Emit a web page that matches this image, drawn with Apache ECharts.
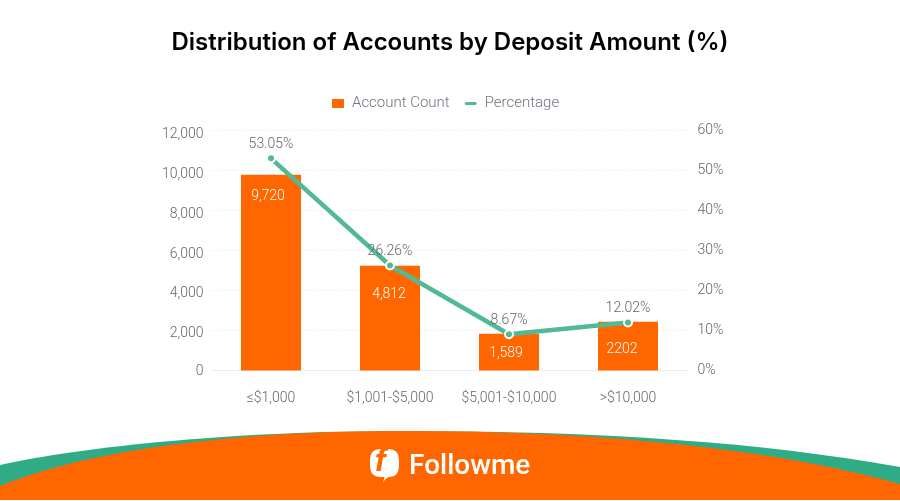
<!DOCTYPE html>
<html><head><meta charset="utf-8">
<style>html,body{margin:0;padding:0;background:#fff}#c{width:900px;height:501px}</style>
<script src="https://cdn.jsdelivr.net/npm/echarts@6/dist/echarts.min.js"></script>
</head><body><div id="c"></div>
<script>
const categories = ['≤$1,000', '$1,001-$5,000', '$5,001-$10,000', '>$10,000'];
const accountCount = [9785, 5235, 1835, 2435];
const accountLabels = ['9,720', '4,812', '1,589', '2202'];
const percentage = [53.05, 26.26, 9.05, 12.02];
const percentLabels = ['53.05%', '26.26%', '8.67%', '12.02%'];
const FONT = 'Roboto';
const TICK = '#666666';
const G = echarts.graphic;
G.registerShape('greenWave', G.extendPath('M0 465 C85 446 240 431 400 431 C600 431 760 442 900 467 L900 500 L0 500 Z'));
G.registerShape('orangeWave', G.extendPath('M0 486 C100 445 260 431 400 431 C600 431 770 448 900 484 L900 500 L0 500 Z'));
G.registerShape('logoBubble', G.extendPath('M381 449 H388 C396 449 399 453 399 461 V465 C399 473 396 477 389 477 C386 478 384 480 383 483 L384.5 477 H381 C373 477 370 473 370 465 V461 C370 453 373 449 381 449 Z'));
const labelNudge = [[-3, 2], [-1, 9], [-3, 0], [-6, 8]];
const leftTickPad = [2, 6, 6, 8, 8, 8, 8];
const leftRich = {};
leftTickPad.forEach((p, i) => { leftRich['t' + i] = { padding: [p, 0, 0, 0], fontFamily: FONT, fontSize: 14, color: TICK, fontWeight: 300 }; });
const chart = echarts.init(document.getElementById('c'));
chart.setOption({
  animation: false,
  title: { text: 'Distribution of Accounts by Deposit Amount (%)', left: 'center', top: 26,
    textStyle: { fontFamily: 'Inter', fontSize: 24, fontWeight: 600, color: '#000' } },
  legend: { top: 91, left: 327, itemWidth: 12, itemHeight: 9, itemGap: 15,
    textStyle: { fontFamily: FONT, fontSize: 15, color: '#70747f', fontWeight: 300, padding: [0, 0, 0, 3] },
    data: [{ name: 'Account Count', icon: 'rect' },
           { name: 'Percentage', icon: 'path://M1.5 0H10.5A1.5 1.5 0 0 1 10.5 3H1.5A1.5 1.5 0 0 1 1.5 0Z',
             itemStyle: { color: '#52b996', borderWidth: 0 } }] },
  grid: { left: 211.5, right: 212.5, top: 130.5, height: 240 },
  xAxis: { type: 'category', data: categories,
    axisLine: { lineStyle: { color: '#eeeeee' } },
    axisTick: { lineStyle: { color: '#dddddd' }, alignWithLabel: true },
    axisLabel: { interval: 0, margin: 21, fontFamily: FONT, fontSize: 14, fontWeight: 300, color: TICK } },
  yAxis: [
    { type: 'value', min: 0, max: 12000, interval: 2000,
      axisLine: { show: false }, axisTick: { show: false },
      axisLabel: { margin: 8, rich: leftRich,
        formatter: (v, i) => `{t${i}|${v.toLocaleString('en-US')}}` },
      splitLine: { lineStyle: { color: '#f2f2f2', type: 'dashed' } } },
    { type: 'value', min: 0, max: 60, interval: 10,
      axisLine: { show: false }, axisTick: { show: false }, splitLine: { show: false },
      axisLabel: { margin: 10, fontFamily: FONT, fontSize: 14, fontWeight: 300, color: TICK, formatter: '{value}%' } }
  ],
  series: [
    { name: 'Account Count', type: 'bar', barWidth: 60,
      data: accountCount.map((v, i) => ({ value: v, label: { offset: labelNudge[i] } })),
      itemStyle: { color: '#ff6600' },
      label: { show: true, position: 'insideTop', distance: 13, fontFamily: FONT, fontSize: 14, fontWeight: 300, color: '#fff',
        formatter: p => accountLabels[p.dataIndex] } },
    { name: 'Percentage', type: 'line', yAxisIndex: 1, data: percentage, smooth: false,
      symbol: 'circle', symbolSize: 8, showAllSymbol: true,
      lineStyle: { color: '#52b996', width: 4.5 },
      itemStyle: { color: '#52b996', borderColor: '#fff', borderWidth: 2 },
      label: { show: true, position: 'top', distance: 2, fontFamily: FONT, fontSize: 14, fontWeight: 300, color: TICK,
        formatter: p => percentLabels[p.dataIndex] } }
  ],
  graphic: [
    { type: 'greenWave', silent: true, z: 10, style: { fill: '#2fac85' } },
    { type: 'orangeWave', silent: true, z: 11, style: { fill: '#ff6600' } },
    { type: 'logoBubble', silent: true, z: 12, style: { fill: '#fff' } },
    { type: 'text', z: 13, silent: true, style: { x: 375, y: 447, text: 'f', fontFamily: 'Roboto', fontStyle: 'italic', fontWeight: 700, fontSize: 32, fill: '#ff6600' } },
    { type: 'text', z: 13, silent: true, style: { x: 409, y: 453, text: 'Followme', fontFamily: 'Roboto', fontWeight: 500, fontSize: 28, fill: '#fff' } }
  ]
});
</script></body></html>
